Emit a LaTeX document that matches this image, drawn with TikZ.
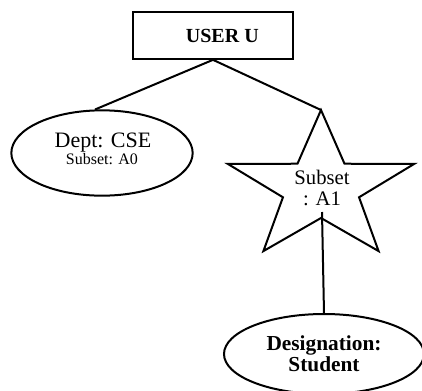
\documentclass[tikz,border=0pt]{standalone}
\usepackage{fontspec}
\setmainfont{Liberation Serif}
\usetikzlibrary{shapes.geometric}

\begin{document}
\begin{tikzpicture}[x=0.75pt, y=-0.75pt, line width=1.5pt,
    oval/.style={draw, shape=ellipse, inner sep=0, align=center}]

    \useasboundingbox (0, 0) rectangle (422, 390);

    % Root
    \node[draw, shape=rectangle, minimum width=120pt, minimum height=35pt,
    font=\fontsize{15}{16}\selectfont\bfseries] (user) at (213, 35.5) {\hspace{14pt}USER U};

    % Leaves
    \node[oval, minimum width=136pt, minimum height=64pt] (dept) at (102, 153) {};
    \node[inner sep=0, anchor=base, font=\fontsize{16.5}{17}\selectfont] (deptname) at (103, 147) {Dept: CSE};
    \node[inner sep=0, anchor=base, font=\fontsize{12}{13}\selectfont] (deptset) at (102, 164) {Subset: A0};
    \node[oval, minimum width=150pt, minimum height=60pt,
    font=\fontsize{16}{14.5}\selectfont\bfseries] (desig) at (324, 354)
    {Designation:\\Student};

    % Star
    \draw (321, 110) \foreach \a/\rx/\ry in {126/40/30, 162/98/78, 198/40/30,
        234/98/78, 270/40/30, 306/98/78, 342/40/30, 18/98/78, 54/40/30}
        { -- ({321 + \rx*cos(\a)}, {188 - \ry*sin(\a)}) } -- cycle;
    \node[align=center, inner sep=0, font=\fontsize{15.5}{15.75}\selectfont]
    (subset) at (322, 188) {Subset\\: A1};
    \coordinate (startop) at (321, 110);
    \coordinate (starin) at (322, 212);

    % Lines
    \draw (user.south) -- (dept.99);
    \draw (user.south) -- (startop);
    \draw (starin) -- (desig.north);

\end{tikzpicture}
\end{document}
